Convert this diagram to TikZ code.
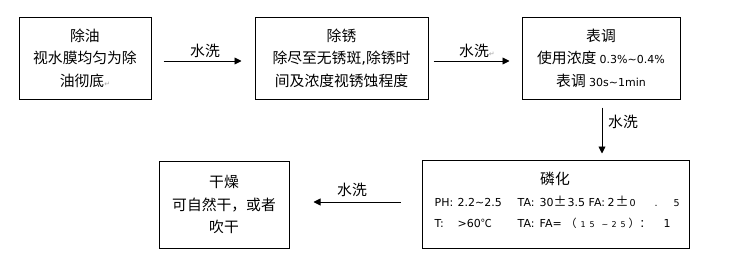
\documentclass[tikz,border=0pt]{standalone}
\usepackage{fontspec}
\setmainfont{Noto Sans CJK SC}
\newfontfamily\lat{DejaVu Sans}
\newfontfamily\cjk{Noto Sans CJK SC}
\usetikzlibrary{arrows.meta}
\newcommand\ret{{\lat\fontsize{7}{8}\selectfont\color{black!35}↵}}
\newcommand\segm[2]{\rlap{\hspace{#1pt}#2}}
\newcommand\sm[1]{{\lat\fontsize{11}{13}\selectfont #1}}
\newcommand\cpm{{\cjk\fontsize{13}{13}\selectfont ±}}
\begin{document}
\begin{tikzpicture}[x=1pt,y=-1pt,
  box/.style={draw, line width=1pt, inner sep=0pt},
  txt/.style={font=\fontsize{14.8}{22.5}\selectfont, align=center, inner sep=0pt},
  arr/.style={-{Triangle[length=7pt,width=7pt]}, line width=0.9pt},
  lbl/.style={font=\fontsize{14.8}{16}\selectfont, inner sep=0pt},
  ln/.style={anchor=base west, inner sep=0pt, font=\lat\fontsize{11}{13}\selectfont}]
\useasboundingbox (0,0) rectangle (729,273);
\fill[white] (0,0) rectangle (729,273);
% boxes
\node[box, minimum width=132pt, minimum height=82pt] (b1) at (85,58) {};
\node[box, minimum width=173pt, minimum height=82pt] (b2) at (341.5,58) {};
\node[box, minimum width=158pt, minimum height=82pt] (b3) at (601,58) {};
\node[box, minimum width=267pt, minimum height=88pt] (b4) at (555.5,204) {};
\node[box, minimum width=130pt, minimum height=87pt] (b5) at (224,204.5) {};
% box texts
\node[txt] (t1) at (b1.center) {除油\\视水膜均匀为除\\油彻底\ret};
\node[txt] (t2) at (b2.center) {除锈\\除尽至无锈斑{\lat,}除锈时\\间及浓度视锈蚀程度};
\node[txt] (t3) at (b3.center) {表调\\使用浓度 \sm{0.3\%\textasciitilde0.4\%}\\表调 \sm{30s\textasciitilde1min}};
\node[lbl] (t4) at (555,179) {磷化};
\node[ln] (t4a) at (434,206) {\segm{0}{PH:}\segm{23}{2.2\textasciitilde2.5}\segm{83}{TA:}\segm{105}{30}\segm{119}{\cpm}\segm{133}{3.5}\segm{154}{FA:}\segm{173}{2}\segm{181}{\cpm}\segm{195}{{\fontsize{9.5}{11}\selectfont 0}}\segm{220}{{\fontsize{9.5}{11}\selectfont .}}\segm{239}{{\fontsize{9.5}{11}\selectfont 5}}};
\node[ln] (t4b) at (434,227) {\segm{0}{T:}\segm{23}{>60{\cjk\fontsize{11}{13}\selectfont ℃}}\segm{83}{TA:}\segm{105}{FA=}\segm{131}{{\cjk\fontsize{11}{13}\selectfont （}}\segm{146}{{\fontsize{8}{10}\selectfont 1}}\segm{155}{{\fontsize{8}{10}\selectfont 5}}\segm{167}{{\fontsize{8}{10}\selectfont \textasciitilde}}\segm{177}{{\fontsize{8}{10}\selectfont 2}}\segm{186}{{\fontsize{8}{10}\selectfont 5}}\segm{194}{{\cjk\fontsize{11}{13}\selectfont ）：}}\segm{229}{1}};
\node[txt] (t5) at (b5.center) {干燥\\可自然干，或者\\吹干};
% connectors
\draw[arr] ([shift={(12,3)}]b1.east) -- ([shift={(-13,3)}]b2.west);
\draw[arr] ([shift={(5,3)}]b2.east) -- ([shift={(-12,3)}]b3.west);
\draw[arr] ([shift={(1,8)}]b3.south) -- ([shift={(46.5,-6)}]b4.north);
\draw[arr] ([shift={(-21,-2)}]b4.west) -- ([shift={(24,-2.5)}]b5.east);
% connector labels
\node[lbl] (l1) at (205,51) {水洗};
\node[lbl, anchor=west] (l2) at (459,51) {水洗\ret};
\node[lbl, anchor=west] (l3) at (608,122) {水洗};
\node[lbl] (l4) at (352,190) {水洗};
\end{tikzpicture}
\end{document}
